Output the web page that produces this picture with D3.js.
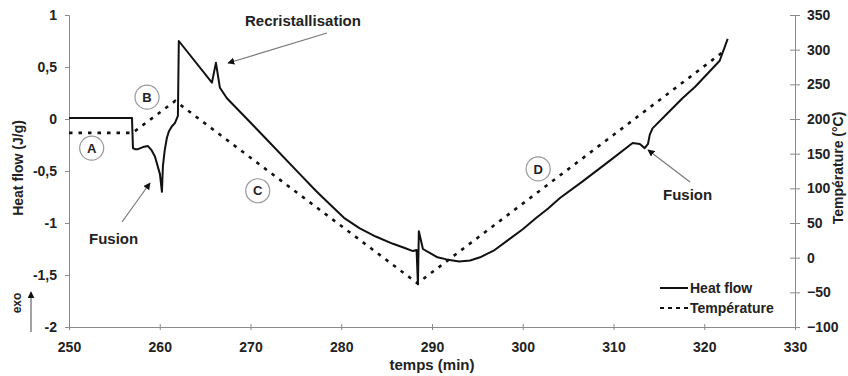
<!DOCTYPE html>
<html lang="fr">
<head>
<meta charset="UTF-8">
<title>DSC</title>
<script src="https://cdn.jsdelivr.net/npm/d3@7"></script>
<style>
body { margin: 0; background: #fff; }
text { font-family: "Liberation Sans", Arial, sans-serif; font-weight: bold; fill: #222; }
</style>
</head>
<body>
<script>

// heat flow (J/g) vs temps (min)
var hfTime  = [250, 253, 256.94, 257.05, 257.27, 257.6, 258.15, 258.7, 259.1, 259.47, 260.02, 260.24, 260.35, 260.55, 260.79, 261.0, 261.34, 261.67,
               262.0, 262.1, 265.75, 266.19, 266.63, 267.4, 271.5, 275.44, 277.2, 278.74, 280.3, 282.0, 283.8, 285.7, 287.0, 287.9, 288.3,
               288.45, 288.55, 289.0, 289.8, 290.6, 291.6, 293.0, 294.2, 295.3, 296.9, 298.6, 300.0, 301.5, 302.8, 304.1, 306.6,
               309.6, 312.11, 312.9, 313.44, 313.8, 314.0, 314.3, 315.9, 317.6, 319.0, 320.3, 321.7, 322.58];
var hfValue = [0.01, 0.01, 0.01, -0.28, -0.29, -0.29, -0.27, -0.26, -0.30, -0.36, -0.53, -0.70, -0.45, -0.30, -0.18, -0.12, -0.07, -0.04,
               0.03, 0.75, 0.35, 0.54, 0.30, 0.20, -0.17, -0.53, -0.69, -0.82, -0.95, -1.05, -1.13, -1.20, -1.24, -1.27, -1.26,
               -1.59, -1.08, -1.25, -1.29, -1.33, -1.35, -1.37, -1.36, -1.33, -1.26, -1.15, -1.06, -0.95, -0.86, -0.76, -0.60,
               -0.40, -0.23, -0.24, -0.28, -0.24, -0.15, -0.09, 0.05, 0.20, 0.31, 0.43, 0.56, 0.77];

// température (°C)
var tTime  = [250, 257.0, 261.7, 288.4, 322.2];
var tValue = [180, 180, 226, -37, 298];

var xTicks  = [250, 260, 270, 280, 290, 300, 310, 320, 330];
var hfTicks = [-2, -1.5, -1, -0.5, 0, 0.5, 1];
var tTicks  = [-100, -50, 0, 50, 100, 150, 200, 250, 300, 350];

var phases = [{ l: "A", t: 252.5, hf: -0.28 }, { l: "B", t: 258.6, hf: 0.21 },
              { l: "C", t: 270.8, hf: -0.69 }, { l: "D", t: 301.7, hf: -0.48 }];

var W = 848, H = 376;
var svg = d3.select("body").append("svg").attr("width", W).attr("height", H);

var x  = d3.scaleLinear().domain([250, 330]).range([69, 795]);
var yL = d3.scaleLinear().domain([-2, 1]).range([327, 15]);
var yR = d3.scaleLinear().domain([-100, 350]).range([327, 15]);

var comma = function(d) { return String(d).replace(".", ","); };
var axisCol = "#8a8a8a";

// axes
var gx = svg.append("g").attr("transform", "translate(0,327)")
    .call(d3.axisBottom(x).tickValues(xTicks).tickSizeOuter(0).tickSize(3));
gx.selectAll(".tick line").attr("y1", -3).attr("y2", 3);
gx.selectAll(".tick text").attr("y", 25).attr("dy", 0).style("font-size", "14px");

var gl = svg.append("g").attr("transform", "translate(69,0)")
    .call(d3.axisLeft(yL).tickValues(hfTicks).tickFormat(comma).tickSizeOuter(0).tickSize(4).tickPadding(8));
gl.selectAll(".tick text").style("font-size", "14px");

var gr = svg.append("g").attr("transform", "translate(795,0)")
    .call(d3.axisRight(yR).tickValues(tTicks).tickSizeOuter(0).tickSize(5).tickPadding(7));
gr.selectAll(".tick line").attr("x1", -5);
gr.selectAll(".tick text").style("font-size", "14px");

svg.selectAll(".domain").attr("stroke", axisCol);
svg.selectAll(".tick line").attr("stroke", axisCol);
svg.selectAll(".tick text").attr("fill", "#222").attr("font-family", null);

// axis titles
svg.append("text").attr("x", 432).attr("y", 370).attr("text-anchor", "middle")
    .style("font-size", "15px").text("temps (min)");
svg.append("text").attr("transform", "translate(23,168) rotate(-90)").attr("text-anchor", "middle")
    .style("font-size", "14px").text("Heat flow (J/g)");
svg.append("text").attr("transform", "translate(843,168) rotate(-90)").attr("text-anchor", "middle")
    .style("font-size", "14px").text("Température (°C)");

// exo
svg.append("defs").append("marker").attr("id", "ah").attr("viewBox", "0 0 10 10")
    .attr("refX", 9).attr("refY", 5).attr("markerWidth", 7).attr("markerHeight", 7)
    .attr("markerUnits", "userSpaceOnUse").attr("orient", "auto")
    .append("path").attr("d", "M0,0 L10,5 L0,10 z").attr("fill", "#111");

svg.append("text").attr("transform", "translate(21,303) rotate(-90)").attr("text-anchor", "middle")
    .style("font-size", "12px").text("exo");
svg.append("line").attr("x1", 31).attr("y1", 332).attr("x2", 31).attr("y2", 292)
    .attr("stroke", "#666").attr("stroke-width", 1.2).attr("marker-end", "url(#ah)");

// curves
var lineHF = d3.line().x(function(d, i) { return x(hfTime[i]); }).y(function(d) { return yL(d); });
var lineT  = d3.line().x(function(d, i) { return x(tTime[i]); }).y(function(d) { return yR(d); });

svg.append("path").attr("d", lineT(tValue)).attr("fill", "none").attr("stroke", "#111")
    .attr("stroke-width", 2.6).attr("stroke-dasharray", "3.5,6");
svg.append("path").attr("d", lineHF(hfValue)).attr("fill", "none").attr("stroke", "#111")
    .attr("stroke-width", 2).attr("stroke-linejoin", "round");

// phase circles
var ph = svg.selectAll("g.phase").data(phases).enter().append("g")
    .attr("transform", function(d) { return "translate(" + x(d.t) + "," + yL(d.hf) + ")"; });
ph.append("circle").attr("r", 12).attr("fill", "#fff").attr("stroke", "#999").attr("stroke-width", 1.2);
ph.append("text").attr("text-anchor", "middle").attr("dy", "0.36em").style("font-size", "13px")
    .text(function(d) { return d.l; });

// annotations
function note(txt, tx, ty, x1, y1, x2, y2) {
    svg.append("line").attr("x1", x1).attr("y1", y1).attr("x2", x2).attr("y2", y2)
        .attr("stroke", "#777").attr("stroke-width", 1.2).attr("marker-end", "url(#ah)");
    svg.append("text").attr("x", tx).attr("y", ty).style("font-size", "15px").text(txt);
}
note("Recristallisation", 245, 26, 327, 33, 228, 63);
note("Fusion", 89, 244, 122, 222, 150, 183);
note("Fusion", 663, 200, 690, 182, 648, 150);

// legend
svg.append("line").attr("x1", 660).attr("x2", 688).attr("y1", 288).attr("y2", 288)
    .attr("stroke", "#111").attr("stroke-width", 2);
svg.append("text").attr("x", 690).attr("y", 293).style("font-size", "14px").text("Heat flow");
svg.append("line").attr("x1", 660).attr("x2", 688).attr("y1", 308).attr("y2", 308)
    .attr("stroke", "#111").attr("stroke-width", 2).attr("stroke-dasharray", "4,4");
svg.append("text").attr("x", 690).attr("y", 313).style("font-size", "14px").text("Température");

</script>
</body>
</html>
